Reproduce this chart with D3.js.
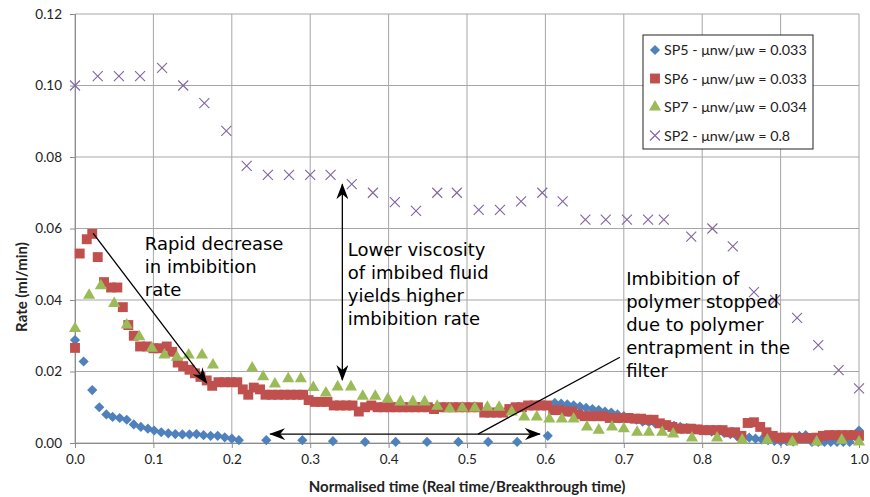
<!DOCTYPE html>
<html>
<head>
<meta charset="utf-8">
<script src="https://cdn.jsdelivr.net/npm/d3@7"></script>
<style>
  body { margin: 0; background: #fff; }
</style>
</head>
<body>
<div id="chart"></div>
<script>

// series data: [normalised time, rate ml/min]
const sp5 = [
  [0.000,0.0288],[0.011,0.0228],[0.022,0.0148],[0.031,0.0100],[0.040,0.0080],[0.048,0.0073],
  [0.057,0.0070],[0.066,0.0065],[0.075,0.0052],[0.084,0.0045],[0.093,0.0040],[0.101,0.0035],
  [0.110,0.0030],[0.119,0.0027],[0.128,0.0025],[0.137,0.0024],[0.146,0.0024],[0.155,0.0025],
  [0.164,0.0022],[0.173,0.0020],[0.182,0.0020],[0.191,0.0016],[0.200,0.0012],[0.209,0.0008],
  [0.244,0.0008],[0.290,0.0008],[0.329,0.0005],[0.370,0.0003],[0.409,0.0003],[0.449,0.0003],
  [0.489,0.0003],[0.527,0.0003],[0.564,0.0003],[0.603,0.0020],
  [0.612,0.0112],[0.620,0.0110],[0.628,0.0108],[0.636,0.0105],[0.644,0.0102],[0.652,0.0098],
  [0.660,0.0095],[0.668,0.0092],[0.676,0.0088],[0.684,0.0085],[0.692,0.0080],[0.700,0.0075],
  [0.708,0.0070],[0.716,0.0065],[0.724,0.0060],[0.732,0.0058],[0.740,0.0055],[0.748,0.0052],
  [0.756,0.0050],[0.764,0.0048],[0.772,0.0045],[0.780,0.0042],[0.788,0.0040],[0.796,0.0038],
  [0.804,0.0035],[0.812,0.0032],[0.820,0.0030],[0.828,0.0028],[0.836,0.0025],[0.844,0.0020],
  [0.852,0.0018],[0.860,0.0015],[0.868,0.0012],[0.876,0.0010],[0.884,0.0008],[0.892,0.0006],
  [0.900,0.0005],[0.908,0.0005],[0.916,0.0004],[0.924,0.0020],[0.932,0.0022],[0.940,0.0003],
  [0.948,0.0003],[0.956,0.0003],[0.964,0.0003],[0.972,0.0003],[0.980,0.0003],[0.988,0.0003],
  [1.000,0.0035]
];

const sp6 = [
  [0.000,0.0266],[0.006,0.0530],[0.015,0.0570],[0.022,0.0585],[0.029,0.0520],[0.037,0.0450],
  [0.046,0.0435],[0.054,0.0435],[0.061,0.0380],[0.068,0.0330],[0.075,0.0300],[0.083,0.0270],
  [0.092,0.0270],[0.100,0.0265],[0.108,0.0265],[0.117,0.0270],[0.124,0.0255],[0.131,0.0225],
  [0.138,0.0215],[0.146,0.0205],[0.153,0.0195],[0.160,0.0185],[0.168,0.0175],[0.175,0.0160],
  [0.183,0.0170],[0.191,0.0170],[0.199,0.0170],[0.207,0.0170],[0.214,0.0150],[0.221,0.0135],
  [0.228,0.0155],[0.236,0.0150],[0.243,0.0135],[0.251,0.0135],[0.259,0.0135],[0.267,0.0135],
  [0.275,0.0135],[0.283,0.0135],[0.291,0.0135],[0.298,0.0120],[0.306,0.0115],[0.314,0.0115],
  [0.322,0.0115],[0.330,0.0105],[0.338,0.0105],[0.346,0.0105],[0.354,0.0105],[0.362,0.0088],
  [0.370,0.0100],[0.378,0.0105],[0.386,0.0100],[0.394,0.0100],[0.402,0.0100],[0.410,0.0100],
  [0.418,0.0100],[0.426,0.0100],[0.434,0.0100],[0.442,0.0100],[0.450,0.0100],[0.458,0.0095],
  [0.466,0.0100],[0.474,0.0100],[0.482,0.0100],[0.490,0.0100],[0.498,0.0100],[0.506,0.0100],
  [0.514,0.0100],[0.522,0.0085],[0.530,0.0085],[0.538,0.0085],[0.546,0.0085],[0.554,0.0095],
  [0.562,0.0100],[0.570,0.0100],[0.578,0.0105],[0.586,0.0105],[0.594,0.0105],[0.602,0.0105],
  [0.610,0.0092],[0.618,0.0092],[0.626,0.0088],[0.634,0.0088],[0.642,0.0080],[0.650,0.0075],
  [0.658,0.0075],[0.666,0.0075],[0.674,0.0075],[0.682,0.0070],[0.690,0.0070],[0.698,0.0070],
  [0.706,0.0070],[0.714,0.0068],[0.722,0.0068],[0.730,0.0065],[0.738,0.0065],[0.746,0.0055],
  [0.754,0.0050],[0.762,0.0045],[0.770,0.0040],[0.778,0.0040],[0.786,0.0040],[0.794,0.0038],
  [0.802,0.0036],[0.810,0.0036],[0.818,0.0036],[0.826,0.0036],[0.834,0.0030],[0.842,0.0030],
  [0.850,0.0020],[0.858,0.0056],[0.866,0.0058],[0.874,0.0045],[0.882,0.0030],[0.890,0.0020],
  [0.898,0.0015],[0.906,0.0015],[0.914,0.0015],[0.922,0.0014],[0.930,0.0014],[0.938,0.0014],
  [0.946,0.0015],[0.954,0.0020],[0.962,0.0022],[0.970,0.0022],[0.978,0.0022],[0.986,0.0022],
  [0.994,0.0022],[1.000,0.0020]
];

const sp7 = [
  [0.000,0.0320],[0.018,0.0413],[0.033,0.0440],[0.050,0.0390],[0.066,0.0330],[0.082,0.0297],
  [0.098,0.0265],[0.114,0.0246],[0.130,0.0240],[0.145,0.0246],[0.162,0.0246],[0.176,0.0218],
  [0.226,0.0210],[0.240,0.0185],[0.255,0.0165],[0.272,0.0180],[0.288,0.0180],[0.304,0.0155],
  [0.320,0.0140],[0.335,0.0157],[0.352,0.0157],[0.367,0.0131],[0.383,0.0131],[0.399,0.0123],
  [0.415,0.0115],[0.431,0.0115],[0.446,0.0115],[0.462,0.0103],[0.478,0.0096],[0.494,0.0098],
  [0.510,0.0098],[0.526,0.0100],[0.541,0.0100],[0.557,0.0087],[0.573,0.0073],[0.589,0.0073],
  [0.605,0.0067],[0.621,0.0067],[0.636,0.0067],[0.653,0.0045],[0.668,0.0036],[0.685,0.0045],
  [0.700,0.0040],[0.717,0.0030],[0.732,0.0030],[0.749,0.0030],[0.763,0.0025],[0.787,0.0014],
  [0.819,0.0014],[0.851,0.0008],[0.883,0.0008],[0.915,0.0003],[0.946,0.0003],[0.978,0.0008],
  [1.000,0.0003]
];

const sp2 = [
  [0.000,0.1000],[0.029,0.1026],[0.056,0.1026],[0.083,0.1026],[0.111,0.1049],[0.138,0.1000],
  [0.165,0.0951],[0.193,0.0873],[0.219,0.0775],[0.246,0.0750],[0.273,0.0750],[0.300,0.0750],
  [0.326,0.0750],[0.353,0.0724],[0.380,0.0700],[0.408,0.0674],[0.435,0.0649],[0.462,0.0700],
  [0.487,0.0700],[0.515,0.0652],[0.542,0.0652],[0.569,0.0676],[0.596,0.0700],[0.622,0.0676],
  [0.651,0.0625],[0.677,0.0625],[0.704,0.0625],[0.731,0.0625],[0.751,0.0625],[0.786,0.0577],
  [0.813,0.0600],[0.839,0.0550],[0.866,0.0422],[0.893,0.0400],[0.921,0.0350],[0.948,0.0274],
  [0.974,0.0204],[1.000,0.0153]
];

const seriesNames = ["SP5 - \u03bcnw/\u03bcw = 0.033", "SP6 - \u03bcnw/\u03bcw = 0.033",
                     "SP7 - \u03bcnw/\u03bcw = 0.034", "SP2 - \u03bcnw/\u03bcw = 0.8"];
const xTicks = [0, 0.1, 0.2, 0.3, 0.4, 0.5, 0.6, 0.7, 0.8, 0.9, 1.0];
const yTicks = [0, 0.02, 0.04, 0.06, 0.08, 0.10, 0.12];

let margin = { top: 14, left: 75, right: 11, bottom: 54 },
    width = 870 - margin.left - margin.right,
    height = 497 - margin.top - margin.bottom;

const svg = d3.select("#chart")
  .append("svg")
    .attr("width", width + margin.left + margin.right)
    .attr("height", height + margin.top + margin.bottom)
    .style("background", "#fff");

const g = svg.append("g")
    .attr("transform", `translate(${margin.left},${margin.top})`);

const x = d3.scaleLinear().domain([0, 1]).range([0, width]);
const y = d3.scaleLinear().domain([0, 0.12]).range([height, 0]);

const gridColor = "#a6a6a6";
const labelFont = "Lato, 'Open Sans', sans-serif";

// gridlines
g.append("g").selectAll("line").data(yTicks).join("line")
  .attr("x1", 0).attr("x2", width)
  .attr("y1", d => y(d)).attr("y2", d => y(d))
  .attr("stroke", gridColor).attr("stroke-width", 1);
g.append("g").selectAll("line").data(xTicks).join("line")
  .attr("x1", d => x(d)).attr("x2", d => x(d))
  .attr("y1", 0).attr("y2", height)
  .attr("stroke", gridColor).attr("stroke-width", 1);

// axes
const xAxis = g.append("g")
  .attr("transform", `translate(0,${height})`)
  .call(d3.axisBottom(x).tickValues(xTicks).tickFormat(d3.format(".1f")).tickSize(5).tickPadding(6));
const yAxis = g.append("g")
  .call(d3.axisLeft(y).tickValues(yTicks).tickFormat(d3.format(".2f")).tickSize(5).tickPadding(8));

[xAxis, yAxis].forEach(a => {
  a.select(".domain").attr("stroke", "#8c8c8c");
  a.selectAll(".tick line").attr("stroke", "#8c8c8c");
  a.selectAll(".tick text")
    .style("font-family", labelFont)
    .style("font-size", "13.5px")
    .attr("fill", "#222");
});

// axis titles
svg.append("text")
  .attr("x", 467).attr("y", 492)
  .attr("text-anchor", "middle")
  .style("font-family", labelFont).style("font-size", "15px").style("font-weight", "bold")
  .attr("fill", "#222")
  .text("Normalised time (Real time/Breakthrough time)");

svg.append("text")
  .attr("transform", "translate(27,287) rotate(-90)")
  .attr("text-anchor", "middle")
  .style("font-family", labelFont).style("font-size", "15px").style("font-weight", "bold")
  .attr("fill", "#222")
  .text("Rate (ml/min)");

// marker shapes
const diamond = d3.symbol(d3.symbolSquare, 52)();
const square = d3.symbol(d3.symbolSquare, 98)();
const triangle = d3.symbol(d3.symbolTriangle, 64)();
const cross = "M-5,-5L5,5M-5,5L5,-5";

const styles = [
  { data: sp5, path: diamond, fill: "#4f81bd", stroke: "none", rot: 45 },
  { data: sp6, path: square, fill: "#c0504d", stroke: "none", rot: 0 },
  { data: sp7, path: triangle, fill: "#9bbb59", stroke: "none", rot: 0 },
  { data: sp2, path: cross, fill: "none", stroke: "#8064a2", rot: 0 }
];

styles.forEach(s => {
  g.append("g").selectAll("path").data(s.data).join("path")
    .attr("d", s.path)
    .attr("transform", d => `translate(${x(d[0])},${y(d[1])}) rotate(${s.rot})`)
    .attr("fill", s.fill)
    .attr("stroke", s.stroke)
    .attr("stroke-width", 1.1);
});

// arrowhead
const defs = svg.append("defs");
defs.append("marker")
  .attr("id", "arrow")
  .attr("viewBox", "0 0 16 12")
  .attr("markerUnits", "userSpaceOnUse")
  .attr("markerWidth", 16).attr("markerHeight", 12)
  .attr("refX", 15).attr("refY", 6)
  .attr("orient", "auto-start-reverse")
  .append("path")
    .attr("d", "M0,0L16,6L0,12L5,6Z")
    .attr("fill", "#000");

// annotation lines, in data units
const arrows = [
  { from: [0.023, 0.0587], to: [0.168, 0.0168], start: false, end: true },
  { from: [0.341, 0.0176], to: [0.341, 0.0724], start: true, end: true },
  { from: [0.249, 0.0025], to: [0.593, 0.0025], start: true, end: true },
  { from: [0.695, 0.0240], to: [0.514, 0.0025], start: false, end: false }
];

arrows.forEach(a => {
  g.append("line")
    .attr("x1", x(a.from[0])).attr("y1", y(a.from[1]))
    .attr("x2", x(a.to[0])).attr("y2", y(a.to[1]))
    .attr("stroke", "#000").attr("stroke-width", 1.3)
    .attr("marker-start", a.start ? "url(#arrow)" : null)
    .attr("marker-end", a.end ? "url(#arrow)" : null);
});

const notes = [
  { at: [0.089, 0.0540], lines: ["Rapid decrease", "in imbibition", "rate"] },
  { at: [0.348, 0.0523], lines: ["Lower viscosity", "of imbibed fluid", "yields higher", "imbibition rate"] },
  { at: [0.703, 0.0442], lines: ["Imbibition of", "polymer stopped", "due to polymer", "entrapment in the", "filter"] }
];

notes.forEach(n => {
  const t = g.append("text")
    .attr("x", x(n.at[0])).attr("y", y(n.at[1]))
    .style("font-family", "'DejaVu Sans', sans-serif")
    .style("font-size", "18px")
    .attr("fill", "#000");
  n.lines.forEach((l, i) => {
    t.append("tspan")
      .attr("x", x(n.at[0]))
      .attr("dy", i === 0 ? 0 : 23)
      .text(l);
  });
});

// legend
const legend = svg.append("g").attr("transform", "translate(643,35)");
legend.append("rect")
  .attr("width", 170).attr("height", 114)
  .attr("fill", "#fff").attr("stroke", "#222").attr("stroke-width", 1);

styles.forEach((s, i) => {
  const row = legend.append("g").attr("transform", `translate(12,${15 + i * 28.5})`);
  row.append("path")
    .attr("d", s.path)
    .attr("transform", `rotate(${s.rot})`)
    .attr("fill", s.fill).attr("stroke", s.stroke).attr("stroke-width", 1.1);
  row.append("text")
    .attr("x", 9).attr("dy", "0.35em")
    .style("font-family", labelFont).style("font-size", "14.3px")
    .attr("fill", "#222")
    .text(seriesNames[i]);
});

</script>
</body>
</html>
